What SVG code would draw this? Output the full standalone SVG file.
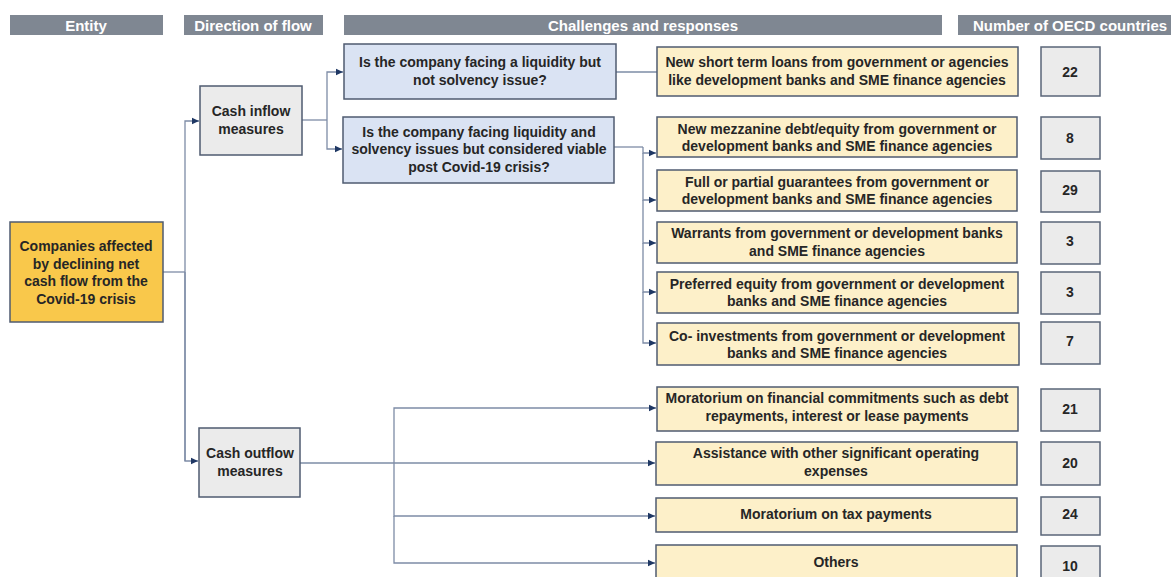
<svg xmlns="http://www.w3.org/2000/svg" width="1171" height="577" viewBox="0 0 1171 577">
<defs>
<style>
.hdr{fill:#7f8792}
.hdrt{font-family:"Liberation Sans",Arial,sans-serif;font-weight:bold;font-size:15px;fill:#ffffff;text-anchor:middle}
.t{font-family:"Liberation Sans",Arial,sans-serif;font-weight:bold;font-size:14px;fill:#262626;text-anchor:middle}
.ent{fill:#f9c84b;stroke:#4f5b70;stroke-width:1.5}
.gry{fill:#ebebeb;stroke:#4f5b70;stroke-width:1.5}
.blu{fill:#dae3f3;stroke:#4f5b70;stroke-width:1.5}
.yel{fill:#fdf0c9;stroke:#4f5b70;stroke-width:1.5}
.num{fill:#ebebeb;stroke:#5a6578;stroke-width:1.5}
.c{fill:none;stroke:#7d8ca6;stroke-width:1.3}
.a{fill:none;stroke:#7d8ca6;stroke-width:1.3;marker-end:url(#ah)}
</style>
<marker id="ah" markerUnits="userSpaceOnUse" markerWidth="8" markerHeight="8" refX="7" refY="4" orient="auto">
<path d="M0,0.8 L7,4 L0,7.2 Z" fill="#1f3864"/>
</marker>
</defs>

<g id="headers">
<rect class="hdr" x="10" y="15" width="153" height="20"/>
<text class="hdrt" x="86" y="30.5">Entity</text>
<rect class="hdr" x="184" y="15" width="139" height="20"/>
<text class="hdrt" x="253" y="30.5">Direction of flow</text>
<rect class="hdr" x="344" y="15" width="598" height="20"/>
<text class="hdrt" x="643" y="30.5">Challenges and responses</text>
<rect class="hdr" x="958" y="15" width="213" height="20"/>
<text class="hdrt" x="1070" y="30.5">Number of OECD countries</text>
</g>

<g id="connectors">
<polyline class="c" points="163,272 185,272"/>
<polyline class="a" points="185,461 185,121 199,121"/>
<polyline class="a" points="185,272 185,461 198,461"/>
<polyline class="c" points="302,120 327,120"/>
<polyline class="a" points="327,120 327,72 343,72"/>
<polyline class="a" points="327,120 327,149 342,149"/>
<polyline class="c" points="616,72 657,72"/>
<polyline class="c" points="614,147 643,147"/>
<polyline class="a" points="643,147 643,153 656,153"/>
<polyline class="a" points="643,153 643,200 656,200"/>
<polyline class="a" points="643,200 643,243 656,243"/>
<polyline class="a" points="643,243 643,292 656,292"/>
<polyline class="a" points="643,292 643,343 656,343"/>
<polyline class="a" points="300,463 655,463"/>
<polyline class="a" points="394,463 394,408 656,408"/>
<polyline class="a" points="394,463 394,516 655,516"/>
<polyline class="a" points="394,516 394,563 655,563"/>
</g>

<g id="entity">
<rect class="ent" x="10" y="222" width="153" height="100"/>
<text class="t" x="86" y="251">Companies affected</text>
<text class="t" x="86" y="268.5">by declining net</text>
<text class="t" x="86" y="286">cash flow from the</text>
<text class="t" x="86" y="303.5">Covid-19 crisis</text>
</g>

<g id="cash-inflow">
<rect class="gry" x="200" y="86" width="102" height="69"/>
<text class="t" x="251" y="116">Cash inflow</text>
<text class="t" x="251" y="134">measures</text>
</g>

<g id="cash-outflow">
<rect class="gry" x="199" y="428" width="101" height="69"/>
<text class="t" x="250" y="458">Cash outflow</text>
<text class="t" x="250" y="476">measures</text>
</g>

<g id="q1">
<rect class="blu" x="344" y="44" width="272" height="55"/>
<text class="t" x="480" y="67">Is the company facing a liquidity but</text>
<text class="t" x="480" y="85">not solvency issue?</text>
</g>

<g id="q2">
<rect class="blu" x="343" y="117" width="271" height="66"/>
<text class="t" x="479" y="137">Is the company facing liquidity and</text>
<text class="t" x="479" y="154">solvency issues but considered viable</text>
<text class="t" x="479" y="172">post Covid-19 crisis?</text>
</g>

<g id="r1">
<rect class="yel" x="657" y="47" width="361" height="49"/>
<text class="t" x="837" y="67">New short term loans from government or agencies</text>
<text class="t" x="837" y="85">like development banks and SME finance agencies</text>
</g>
<g id="r2">
<rect class="yel" x="657" y="117" width="360" height="40"/>
<text class="t" x="837" y="134">New mezzanine debt/equity from government or</text>
<text class="t" x="837" y="151">development banks and SME finance agencies</text>
</g>
<g id="r3">
<rect class="yel" x="657" y="170" width="360" height="41"/>
<text class="t" x="837" y="187">Full or partial guarantees from government or</text>
<text class="t" x="837" y="204">development banks and SME finance agencies</text>
</g>
<g id="r4">
<rect class="yel" x="657" y="222" width="360" height="41"/>
<text class="t" x="837" y="238">Warrants from government or development banks</text>
<text class="t" x="837" y="256">and SME finance agencies</text>
</g>
<g id="r5">
<rect class="yel" x="657" y="272" width="361" height="41"/>
<text class="t" x="837" y="289">Preferred equity from government or development</text>
<text class="t" x="837" y="306">banks and SME finance agencies</text>
</g>
<g id="r6">
<rect class="yel" x="657" y="323" width="362" height="42"/>
<text class="t" x="837" y="341">Co- investments from government or development</text>
<text class="t" x="837" y="358">banks and SME finance agencies</text>
</g>
<g id="r7">
<rect class="yel" x="657" y="387" width="361" height="44"/>
<text class="t" x="837" y="403">Moratorium on financial commitments such as debt</text>
<text class="t" x="837" y="421">repayments, interest or lease payments</text>
</g>
<g id="r8">
<rect class="yel" x="656" y="442" width="361" height="43"/>
<text class="t" x="836" y="458">Assistance with other significant operating</text>
<text class="t" x="836" y="476">expenses</text>
</g>
<g id="r9">
<rect class="yel" x="656" y="498" width="361" height="34"/>
<text class="t" x="836" y="519">Moratorium on tax payments</text>
</g>
<g id="r10">
<rect class="yel" x="656" y="545" width="361" height="40"/>
<text class="t" x="836" y="567">Others</text>
</g>

<g id="n1"><rect class="num" x="1041" y="47" width="59" height="49"/><text class="t" x="1070" y="76.5">22</text></g>
<g id="n2"><rect class="num" x="1041" y="117" width="59" height="42"/><text class="t" x="1070" y="143">8</text></g>
<g id="n3"><rect class="num" x="1041" y="171" width="59" height="41"/><text class="t" x="1070" y="195">29</text></g>
<g id="n4"><rect class="num" x="1041" y="222" width="59" height="42"/><text class="t" x="1070" y="246">3</text></g>
<g id="n5"><rect class="num" x="1041" y="272" width="59" height="42"/><text class="t" x="1070" y="297">3</text></g>
<g id="n6"><rect class="num" x="1041" y="322" width="59" height="42"/><text class="t" x="1070" y="346">7</text></g>
<g id="n7"><rect class="num" x="1041" y="389" width="59" height="42"/><text class="t" x="1070" y="414">21</text></g>
<g id="n8"><rect class="num" x="1041" y="442" width="59" height="43"/><text class="t" x="1070" y="468">20</text></g>
<g id="n9"><rect class="num" x="1041" y="497" width="59" height="38"/><text class="t" x="1070" y="519">24</text></g>
<g id="n10"><rect class="num" x="1041" y="546" width="59" height="40"/><text class="t" x="1070" y="571">10</text></g>
</svg>
